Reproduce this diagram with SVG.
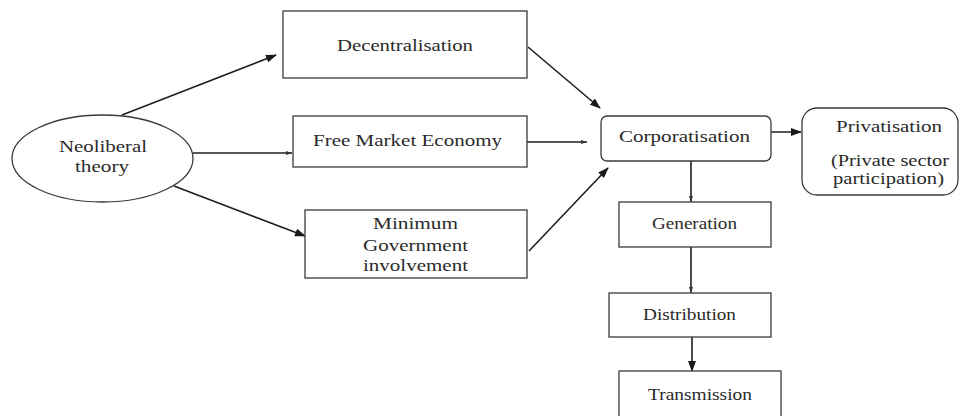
<svg xmlns="http://www.w3.org/2000/svg" width="961" height="416" viewBox="0 0 961 416">
  <defs>
    <marker id="ah" markerUnits="userSpaceOnUse" markerWidth="11" markerHeight="8" refX="10" refY="4" orient="auto">
      <path d="M0,0 L11,4 L0,8 z" fill="#1a1a1a"/>
    </marker>
    <marker id="ahs" markerUnits="userSpaceOnUse" markerWidth="6" markerHeight="4" refX="6" refY="2" orient="auto">
      <path d="M0,0 L6,2 L0,4 z" fill="#333"/>
    </marker>
    <style>
      .box { fill: #ffffff; stroke: #3a3a3a; stroke-width: 1.3; }
      .lbl { font-family: "Liberation Serif", "Times New Roman", serif; font-size: 16px; fill: #2a2a2a; text-anchor: middle; }
      .edge { fill: none; stroke: #1f1f1f; stroke-width: 1.6; }
      .big { marker-end: url(#ah); }
      .small { marker-end: url(#ahs); }
    </style>
  </defs>
  <rect width="961" height="416" fill="#ffffff"/>

  <g id="connectors">
    <line class="edge big" x1="122" y1="115" x2="276" y2="55"/>
    <line class="edge small" x1="193" y1="153" x2="292" y2="153"/>
    <line class="edge big" x1="174" y1="186" x2="305" y2="236"/>
    <line class="edge big" x1="528" y1="47" x2="600" y2="108"/>
    <line class="edge small" x1="527" y1="142" x2="587" y2="142"/>
    <line class="edge big" x1="529" y1="251" x2="608" y2="168"/>
    <line class="edge big" x1="756" y1="132" x2="801" y2="132"/>
    <line class="edge small" x1="691" y1="161" x2="691" y2="202"/>
    <line class="edge small" x1="691" y1="247" x2="691" y2="293"/>
    <line class="edge big" x1="692" y1="337" x2="692" y2="371"/>
  </g>

  <g id="neoliberal">
    <ellipse class="box" cx="102.5" cy="158.5" rx="90.5" ry="43.5"/>
    <text class="lbl" x="103" y="152" textLength="88" lengthAdjust="spacingAndGlyphs">Neoliberal</text>
    <text class="lbl" x="102" y="172" textLength="54" lengthAdjust="spacingAndGlyphs">theory</text>
  </g>

  <g id="decentralisation">
    <rect class="box" x="283" y="11" width="244" height="67"/>
    <text class="lbl" x="405" y="51" textLength="136" lengthAdjust="spacingAndGlyphs">Decentralisation</text>
  </g>

  <g id="free-market">
    <rect class="box" x="293" y="116" width="234" height="51"/>
    <text class="lbl" x="407.5" y="146" textLength="189" lengthAdjust="spacingAndGlyphs">Free Market Economy</text>
  </g>

  <g id="minimum-government">
    <rect class="box" x="305" y="210" width="222" height="68"/>
    <text class="lbl" x="415.5" y="229" textLength="85" lengthAdjust="spacingAndGlyphs">Minimum</text>
    <text class="lbl" x="415.5" y="251" textLength="105" lengthAdjust="spacingAndGlyphs">Government</text>
    <text class="lbl" x="415.5" y="271" textLength="105" lengthAdjust="spacingAndGlyphs">involvement</text>
  </g>

  <g id="corporatisation">
    <rect class="box" x="601" y="116" width="170" height="45" rx="6" ry="6"/>
    <text class="lbl" x="684.5" y="142" textLength="131" lengthAdjust="spacingAndGlyphs">Corporatisation</text>
  </g>

  <g id="privatisation">
    <rect class="box" x="802" y="108" width="156" height="87" rx="15" ry="15"/>
    <text class="lbl" x="889" y="132" textLength="106" lengthAdjust="spacingAndGlyphs">Privatisation</text>
    <text class="lbl" x="890" y="166" textLength="118" lengthAdjust="spacingAndGlyphs">(Private sector</text>
    <text class="lbl" x="888.5" y="184" textLength="111" lengthAdjust="spacingAndGlyphs">participation)</text>
  </g>

  <g id="generation">
    <rect class="box" x="619" y="202" width="152" height="45"/>
    <text class="lbl" x="694.5" y="229" textLength="85" lengthAdjust="spacingAndGlyphs">Generation</text>
  </g>

  <g id="distribution">
    <rect class="box" x="609" y="293" width="162" height="44"/>
    <text class="lbl" x="689.5" y="320" textLength="93" lengthAdjust="spacingAndGlyphs">Distribution</text>
  </g>

  <g id="transmission">
    <rect class="box" x="619" y="371" width="162" height="60"/>
    <text class="lbl" x="700" y="400" textLength="104" lengthAdjust="spacingAndGlyphs">Transmission</text>
  </g>
</svg>
